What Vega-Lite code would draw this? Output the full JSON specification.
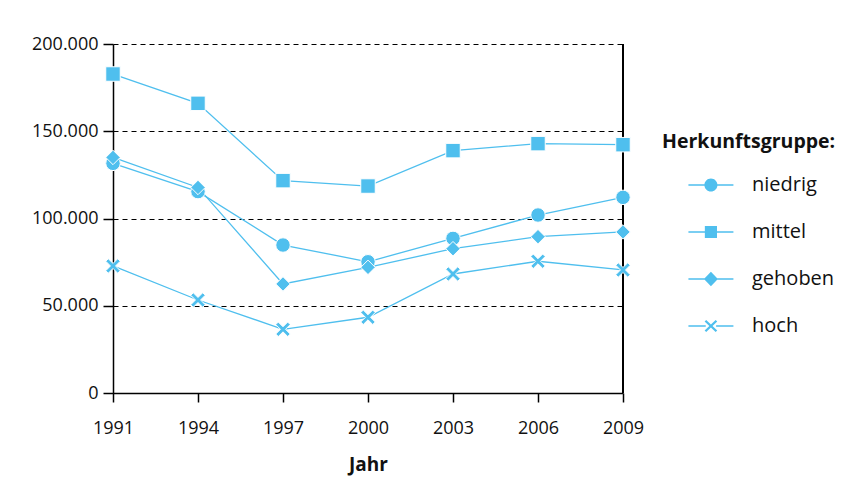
{
  "$schema": "https://vega.github.io/schema/vega-lite/v6.json",
  "width": 510,
  "height": 349,
  "autosize": {"type": "none"},
  "padding": {"left": 113, "top": 44, "right": 245, "bottom": 109},
  "background": "white",
  "config": {"view": {"stroke": null}, "font": "Open Sans"},
  "data": {"values": [
    {"Jahr": 1991, "Gruppe": "niedrig", "Wert": 131600},
    {"Jahr": 1994, "Gruppe": "niedrig", "Wert": 115400},
    {"Jahr": 1997, "Gruppe": "niedrig", "Wert": 84800},
    {"Jahr": 2000, "Gruppe": "niedrig", "Wert": 75200},
    {"Jahr": 2003, "Gruppe": "niedrig", "Wert": 88600},
    {"Jahr": 2006, "Gruppe": "niedrig", "Wert": 102000},
    {"Jahr": 2009, "Gruppe": "niedrig", "Wert": 112100},
    {"Jahr": 1991, "Gruppe": "mittel", "Wert": 182800},
    {"Jahr": 1994, "Gruppe": "mittel", "Wert": 166000},
    {"Jahr": 1997, "Gruppe": "mittel", "Wert": 121700},
    {"Jahr": 2000, "Gruppe": "mittel", "Wert": 118600},
    {"Jahr": 2003, "Gruppe": "mittel", "Wert": 138900},
    {"Jahr": 2006, "Gruppe": "mittel", "Wert": 142900},
    {"Jahr": 2009, "Gruppe": "mittel", "Wert": 142300},
    {"Jahr": 1991, "Gruppe": "gehoben", "Wert": 135000},
    {"Jahr": 1994, "Gruppe": "gehoben", "Wert": 117800},
    {"Jahr": 1997, "Gruppe": "gehoben", "Wert": 62500},
    {"Jahr": 2000, "Gruppe": "gehoben", "Wert": 72000},
    {"Jahr": 2003, "Gruppe": "gehoben", "Wert": 82700},
    {"Jahr": 2006, "Gruppe": "gehoben", "Wert": 89600},
    {"Jahr": 2009, "Gruppe": "gehoben", "Wert": 92300},
    {"Jahr": 1991, "Gruppe": "hoch", "Wert": 72800},
    {"Jahr": 1994, "Gruppe": "hoch", "Wert": 53300},
    {"Jahr": 1997, "Gruppe": "hoch", "Wert": 36500},
    {"Jahr": 2000, "Gruppe": "hoch", "Wert": 43400},
    {"Jahr": 2003, "Gruppe": "hoch", "Wert": 68200},
    {"Jahr": 2006, "Gruppe": "hoch", "Wert": 75500},
    {"Jahr": 2009, "Gruppe": "hoch", "Wert": 70500}
  ]},
  "encoding": {
    "x": {
      "field": "Jahr", "type": "quantitative",
      "scale": {"domain": [1991, 2009], "nice": false, "zero": false},
      "axis": {
        "values": [1991, 1994, 1997, 2000, 2003, 2006, 2009],
        "format": "d", "title": "Jahr", "grid": false,
        "domainColor": "black", "domainWidth": 1.5,
        "tickColor": "black", "tickWidth": 1.5, "tickSize": 9,
        "labelFontSize": 18, "labelColor": "#111", "labelPadding": 17, "labelFlush": false,
        "titleFontSize": 19, "titleFontWeight": "bold", "titleColor": "#111", "titlePadding": 18
      }
    },
    "y": {
      "field": "Wert", "type": "quantitative",
      "scale": {"domain": [0, 200000], "nice": false},
      "axis": {
        "values": [0, 50000, 100000, 150000, 200000],
        "labelExpr": "replace(format(datum.value, ',.0f'), ',', '.')",
        "title": null,
        "grid": true, "gridColor": "black", "gridDash": [5, 4], "gridWidth": 1.2, "gridOpacity": 1,
        "domainColor": "black", "domainWidth": 1.5,
        "tickColor": "black", "tickWidth": 1.5, "tickSize": 10,
        "labelFontSize": 18, "labelColor": "#111", "labelPadding": 5
      }
    }
  },
  "layer": [
    {
      "mark": {"type": "line", "color": "#4fbfee", "strokeWidth": 1.3},
      "encoding": {"detail": {"field": "Gruppe"}}
    },
    {
      "mark": {"type": "rule", "color": "black", "strokeWidth": 1.5},
      "encoding": {"x": {"datum": 2009, "type": "quantitative"}, "y": {"datum": 0, "type": "quantitative"}, "y2": {"datum": 200000}}
    },
    {
      "mark": {"type": "point", "filled": true, "opacity": 1, "color": "#4fbfee", "stroke": "white", "strokeWidth": 1, "size": 210},
      "encoding": {
        "shape": {
          "field": "Gruppe", "type": "nominal",
          "scale": {"domain": ["niedrig", "mittel", "gehoben", "hoch"],
                    "range": ["circle", "square", "diamond", "M-1,-0.65L-0.65,-1L0,-0.35L0.65,-1L1,-0.65L0.35,0L1,0.65L0.65,1L0,0.35L-0.65,1L-1,0.65L-0.35,0Z"]},
          "legend": null
        }
      }
    },
    {
      "mark": {"type": "point", "filled": true, "opacity": 0, "color": "#4fbfee"},
      "encoding": {
        "shape": {
          "field": "Gruppe", "type": "nominal",
          "scale": {"domain": ["niedrig", "mittel", "gehoben", "hoch"],
                    "range": [
                      "M0.13,-0.035H2.13V0.035H0.13ZM0.84,0A0.29,0.29 0 1,1 1.42,0A0.29,0.29 0 1,1 0.84,0Z",
                      "M0.13,-0.035H2.13V0.035H0.13ZM0.86,-0.27H1.40V0.27H0.86Z",
                      "M0.13,-0.035H2.13V0.035H0.13ZM1.13,-0.32L1.44,0L1.13,0.32L0.82,0Z",
                      "M0.13,-0.035H0.9V0.035H0.13ZM1.36,-0.035H2.13V0.035H1.36ZM0.85,-0.20L0.92,-0.27L1.13,-0.07L1.34,-0.27L1.41,-0.20L1.20,0L1.41,0.20L1.34,0.27L1.13,0.07L0.92,0.27L0.85,0.20L1.06,0Z"
                    ]},
          "legend": {
            "orient": "none", "legendX": 549, "legendY": 89, "padding": 0,
            "title": "Herkunftsgruppe:", "titleFontSize": 19.5, "titleFontWeight": "bold", "titleColor": "#111", "titlePadding": 9,
            "labelFontSize": 20, "labelColor": "#111", "labelOffset": 43,
            "symbolSize": 2025, "symbolFillColor": "#4fbfee", "symbolOpacity": 1,
            "rowPadding": 13
          }
        }
      }
    }
  ],
  "resolve": {"scale": {"shape": "independent"}}
}
